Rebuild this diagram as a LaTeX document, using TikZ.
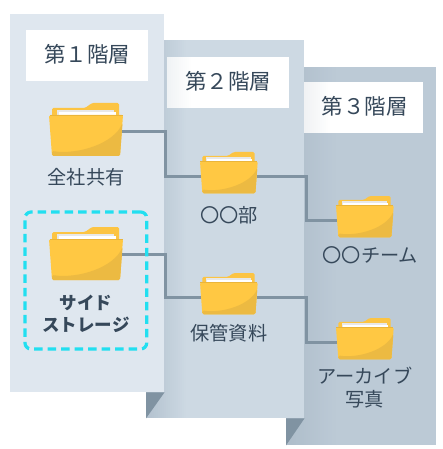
\documentclass[tikz,border=0pt]{standalone}
\usepackage{fontspec}
\setmainfont{Noto Sans CJK JP}
\usepackage{xcolor}
\usetikzlibrary{positioning}
\definecolor{tierA}{HTML}{DFE7EF}
\definecolor{tierB}{HTML}{CDD9E3}
\definecolor{tierC}{HTML}{BCCAD6}
\definecolor{edgeB}{HTML}{B3C2CF}
\definecolor{edgeC}{HTML}{AEBDCA}
\definecolor{headB}{HTML}{F0F3F5}
\definecolor{headC}{HTML}{F0F2F4}
\definecolor{fold}{HTML}{8093A2}
\definecolor{ink}{HTML}{36485A}
\definecolor{dash}{HTML}{22DFF0}
\definecolor{folderback}{HTML}{FCC443}
\definecolor{folderfront}{HTML}{FFC843}
\definecolor{foldershade}{HTML}{ECBA42}
\definecolor{folderrim}{HTML}{EAB53A}

\begin{document}
\begin{tikzpicture}[
  x=1pt, y=-1pt,
  fade/.style n args={3}{path picture={
    \foreach \s in {0,2,...,#3} {
      \pgfmathsetmacro\mix{100*\s/#3}
      \fill[#2!\mix!#1] ([xshift=\s pt]path picture bounding box.north west) rectangle ([xshift=#3 pt]path picture bounding box.south west);
    }}},
  panel/.style={anchor=north west, inner sep=0pt, minimum width=#1},
  title/.style={anchor=north west, fill=white, inner sep=0pt, minimum width=#1, minimum height=51pt,
    text=ink, text depth=5pt, font=\fontsize{21.5}{25}\selectfont},
  lbl/.style={align=center, inner sep=0pt, text=ink, font=\fontsize{19.2}{23}\selectfont},
  link/.style={draw=fold, line width=3pt},
  pics/folder/.style={code={
    \fill[folderback, rounded corners=1.5pt] (3,16) -- (3,5) -- (36,5) -- (43,0) -- (70,0) -- (70,16) -- cycle;
    \fill[black!9] (8,7) rectangle (65,13);
    \fill[white] (9.5,9) rectangle (67,13);
    \fill[folderfront, rounded corners=1.5pt] (0,12) -- (74,12) -- (71,53) -- (3,53) -- cycle;
    \fill[foldershade, rounded corners=1.5pt] (73.5,20) .. controls (65,40) and (30,52) .. (3,48) -- (3,53) -- (71,53) -- cycle;
    \fill[folderrim] (0.5,12) rectangle (73.5,13);
    \coordinate (-in) at (1,#1);
    \coordinate (-out) at (73,#1);
    \coordinate (-foot) at (37,53);
  }}]
  \useasboundingbox (0,0) rectangle (443,449);
  % tiers
  \node[panel=150pt, minimum height=378pt, fill=tierC, fade={edgeC}{tierC}{50}] (tier3) at (286,67) {};
  \node[panel=158pt, minimum height=378pt, fill=tierB, fade={edgeB}{tierB}{40}] (tier2) at (146,40) {};
  \node[panel=154pt, minimum height=378pt, fill=tierA] (tier1) at (10,14) {};
  \fill[fold] (tier2.south west) ++(0,-26) -- ++(18.5,0) -- (tier2.south west) -- cycle;
  \fill[fold] (tier3.south west) ++(0,-27) -- ++(18.5,0) -- (tier3.south west) -- cycle;
  % titles
  \node[title=122pt] (head1) at (26,30) {第１階層\hspace{2pt}};
  \node[title=122pt, fade={headB}{white}{24}] (head2) at (167,57) {第２階層};
  \node[title=119pt, fade={headC}{white}{26}] (head3) at (304,82) {\hspace{2pt}第３階層};
  % folders
  \pic (all) at (49,103) {folder=29};
  \pic (side) at (49,227) {folder=27};
  \pic[scale=.78] (dept) at (200,152) {folder=32};
  \pic[scale=.78] (keep) at (200,273) {folder=32};
  \pic[scale=.78] (team) at (336,196) {folder=32};
  \pic[scale=.78] (photo) at (336,318) {folder=32};
  \node[lbl, below=12.5pt of all-foot] (all-text) {全社共有};
  \node[lbl, below=15pt of side-foot, font=\fontsize{17.5}{22}\selectfont\bfseries] (side-text) {サイド\\ストレージ};
  \node[lbl, below=13pt of dept-foot] (dept-text) {〇〇部};
  \node[lbl, below=9.5pt of keep-foot] (keep-text) {保管資料};
  \node[lbl, below=9pt of team-foot, xshift=5.5pt] (team-text) {〇〇チーム};
  \node[lbl, below=8pt of photo-foot] (photo-text) {アーカイブ\\写真};
  % links
  \coordinate (gap1) at (165,0);
  \coordinate (gap2) at (306,0);
  \draw[link] (all-out) -- (all-out -| gap1) -- (gap1 |- dept-in) -- (dept-in);
  \draw[link] (side-out) -- (side-out -| gap1) -- (gap1 |- keep-in) -- (keep-in);
  \draw[link] (dept-out) -- (dept-out -| gap2) -- (gap2 |- team-in) -- (team-in);
  \draw[link] (keep-out) -- (keep-out -| gap2) -- (gap2 |- photo-in) -- (photo-in);
  % selection
  \node[anchor=north west, inner sep=0pt, outer sep=0pt, minimum width=121.7pt, minimum height=137pt, rounded corners=6pt,
    draw=dash, line width=3.2pt, dash pattern=on 8.5pt off 5pt] (pick) at (25,212) {};
\end{tikzpicture}
\end{document}
